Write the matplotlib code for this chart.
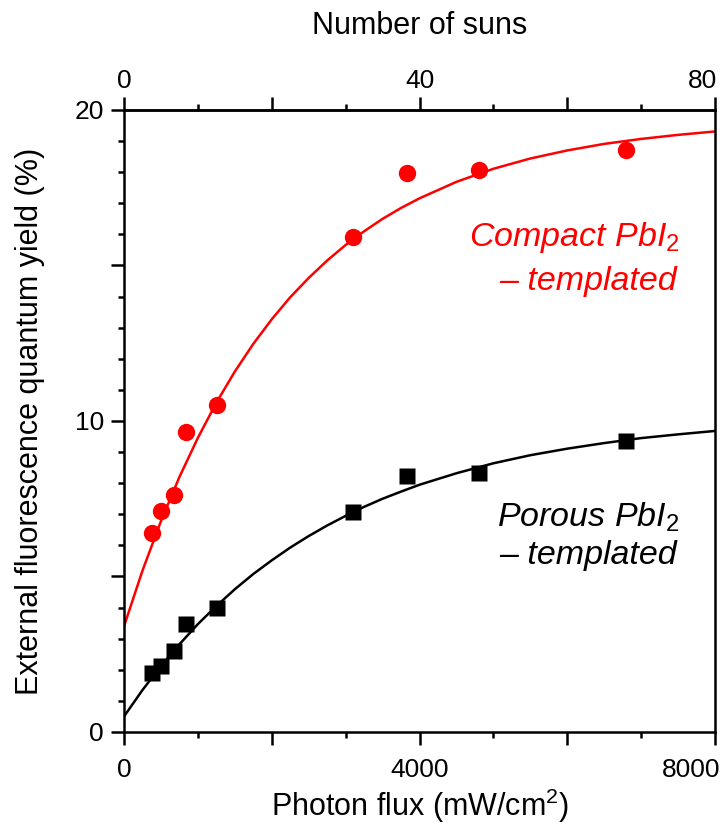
import matplotlib
matplotlib.use("Agg")
import matplotlib.pyplot as plt
from matplotlib.ticker import MultipleLocator, FuncFormatter

plt.rcParams['font.family'] = ['Liberation Sans', 'DejaVu Sans']
plt.rcParams['mathtext.fontset'] = 'custom'
plt.rcParams['mathtext.rm'] = 'Liberation Sans'
plt.rcParams['mathtext.it'] = 'Liberation Sans:italic'

# measured points (photon flux in mW/cm2, EQE in %)
flux = [375, 497, 681, 839, 1254, 3105, 3825, 4808, 6793]
compact_eqe = [6.39, 7.12, 7.62, 9.66, 10.51, 15.93, 17.98, 18.07, 18.71]
porous_eqe = [1.91, 2.12, 2.61, 3.46, 4.00, 7.07, 8.23, 8.33, 9.37]

# fitted curves
curve_x = [0, 250, 500, 750, 1000, 1250, 1500, 1750, 2000, 2250, 2500, 2750,
           3000, 3250, 3500, 3750, 4000, 4500, 5000, 5500, 6000, 6500, 7000,
           7500, 8000]
compact_fit = [3.40, 5.19, 6.78, 8.20, 9.46, 10.59, 11.59, 12.48, 13.27, 13.98,
               14.60, 15.16, 15.66, 16.10, 16.50, 16.85, 17.16, 17.69, 18.11,
               18.44, 18.70, 18.91, 19.07, 19.20, 19.31]
porous_fit = [0.50, 1.35, 2.12, 2.82, 3.47, 4.05, 4.59, 5.08, 5.52, 5.93, 6.30,
              6.64, 6.95, 7.24, 7.50, 7.73, 7.95, 8.32, 8.64, 8.90, 9.11, 9.29,
              9.45, 9.57, 9.68]

fig = plt.figure(figsize=(7.24, 8.32), dpi=100)
ax = fig.add_axes([0.1713, 0.1202, 0.8163, 0.7476])

ax.plot(curve_x, compact_fit, color='#ff0000', lw=1.8, zorder=2)
ax.plot(curve_x, porous_fit, color='black', lw=1.8, zorder=2)
ax.plot(flux, compact_eqe, 'o', color='#ff0000', ms=12.5, mec='none', zorder=3)
ax.plot(flux, porous_eqe, 's', color='black', ms=11, mec='none', zorder=3)

ax.set_xlim(0, 8000)
ax.set_ylim(0, 20)

def only_at(step, skip=None):
    # label every `step`; `skip` is placed by hand further down
    def fmt(v, p):
        if abs(v % step) > 1e-6 or (skip is not None and abs(v - skip) < 1e-6):
            return ""
        return f"{v:g}"
    return FuncFormatter(fmt)

ax.xaxis.set_major_locator(MultipleLocator(2000))
ax.xaxis.set_minor_locator(MultipleLocator(1000))
ax.xaxis.set_major_formatter(only_at(4000, 8000))
ax.yaxis.set_major_locator(MultipleLocator(5))
ax.yaxis.set_minor_locator(MultipleLocator(1))
ax.yaxis.set_major_formatter(only_at(10))

ax.tick_params(which='major', direction='out', length=9.4, width=1.8,
               labelsize=19)
ax.tick_params(which='minor', direction='out', length=4.5, width=1.8)
ax.tick_params(axis='x', which='major', pad=9)
ax.tick_params(axis='y', which='major', pad=5)
ax.tick_params(top=False, right=False, which='both')
for s in ax.spines.values():
    s.set_linewidth(1.8)

top = ax.secondary_xaxis('top', functions=(lambda x: x / 100, lambda s: s * 100))
top.xaxis.set_major_locator(MultipleLocator(20))
top.xaxis.set_minor_locator(MultipleLocator(10))
top.xaxis.set_major_formatter(only_at(40, 80))
top.tick_params(which='major', direction='out', length=9.4, width=1.8,
                labelsize=19, pad=3)
top.tick_params(which='minor', direction='out', length=4.5, width=1.8)
top.spines['top'].set_linewidth(1.8)
top.set_xlabel("Number of suns", fontsize=22, labelpad=25)

# end labels pulled inside the figure, as in the original
ax.annotate("8000", xy=(1, 0), xycoords='axes fraction', xytext=(4, -18.4),
            textcoords='offset points', ha='right', va='top', fontsize=19)
ax.annotate("80", xy=(1, 1), xycoords='axes fraction', xytext=(1.5, 12.4),
            textcoords='offset points', ha='right', va='bottom', fontsize=19)

ax.set_xlabel("Photon flux (mW/cm$^2$)", fontsize=22, labelpad=4)
ax.set_ylabel("External fluorescence quantum yield (%)", fontsize=22, labelpad=21)

ax.text(7520, 15.9, "Compact PbI$_2$", color='#ff0000', fontsize=24.5,
        style='italic', ha='right', va='center')
ax.text(7480, 14.47, "\u2013 templated", color='#ff0000', fontsize=24.5,
        style='italic', ha='right', va='center')
ax.text(7520, 6.9, "Porous PbI$_2$", color='black', fontsize=24.5,
        style='italic', ha='right', va='center')
ax.text(7480, 5.69, "\u2013 templated", color='black', fontsize=24.5,
        style='italic', ha='right', va='center')

fig.savefig("out.png", dpi=100)
